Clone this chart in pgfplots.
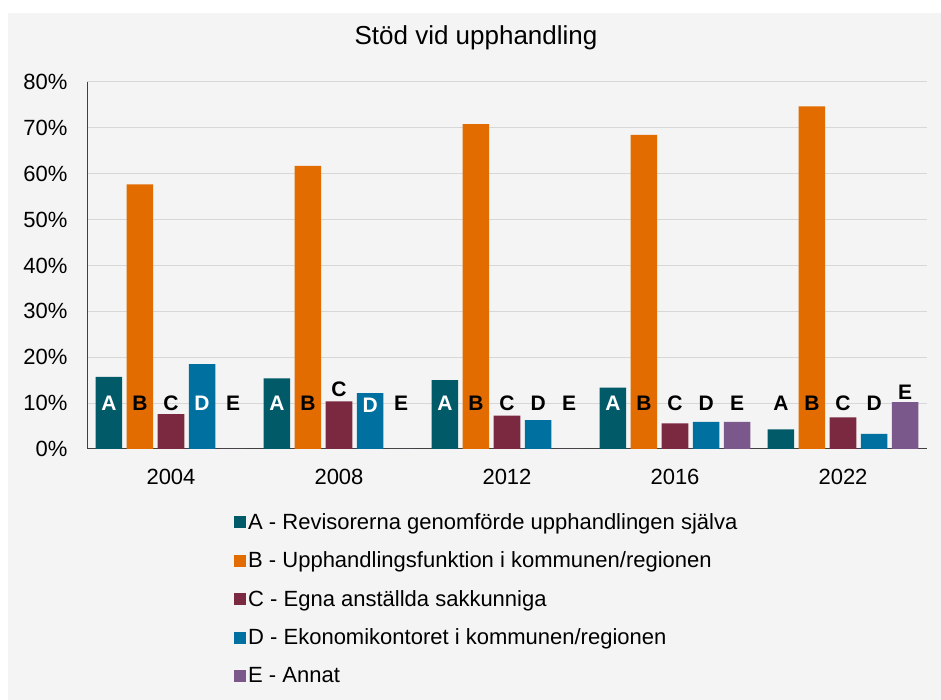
\documentclass[border=0pt]{standalone}
\usepackage{fontspec}
\setmainfont{Liberation Sans}
\usepackage{pgfplots}
\usepackage{pgfplotstable}
\pgfplotsset{compat=1.18}

\definecolor{cA}{RGB}{1,90,104}
\definecolor{cB}{RGB}{227,108,0}
\definecolor{cC}{RGB}{123,41,65}
\definecolor{cD}{RGB}{0,112,160}
\definecolor{cE}{RGB}{123,88,140}
\definecolor{bg}{RGB}{244,244,244}
\definecolor{gridc}{RGB}{215,215,215}

\pgfplotstableread{
x A B C D E
0 15.7 57.7 7.6 18.5 0
1 15.4 61.7 10.4 12.2 0
2 15.0 70.8 7.3 6.3 0
3 13.4 68.5 5.6 5.9 5.9
4 4.3 74.7 6.9 3.3 10.2
}\datatable

\begin{document}
\begin{tikzpicture}[x=1pt,y=1pt,
  lab/.style={font=\bfseries\fontsize{21}{25}\selectfont, inner sep=0pt}]
\fill[white] (0,0) rectangle (941,700);
\fill[bg] (8,0) rectangle (941,687);
\node[font=\fontsize{26}{31}\selectfont] at (476,662) {Stöd vid upphandling};
\begin{axis}[
  at={(87pt,251pt)}, anchor=south west,
  width=840pt, height=367pt, scale only axis,
  ybar, bar width=0.158,
  xmin=-0.5, xmax=4.5, ymin=0, ymax=80,
  xtick={0,...,4}, xticklabels={2004,2008,2012,2016,2022},
  ytick={0,10,...,80},
  yticklabel={\pgfmathprintnumber{\tick}\%},
  /pgf/number format/assume math mode=true,
  tick label style={font=\fontsize{22}{26}\selectfont},
  xticklabel style={yshift=-17pt},
  yticklabel style={xshift=-16pt},
  major tick length=0pt,
  axis x line*=bottom, axis y line*=left,
  axis line style={-, draw=black!75, line width=1pt},
  ymajorgrids, grid style={gridc, line width=1pt},
  legend style={at={(0.175,-0.17)}, anchor=north west, draw=none, fill=none,
    font=\fontsize{22}{26}\selectfont, row sep=17pt, inner sep=0pt},
  legend cell align=left,
  legend image code/.code={\fill[#1] (0pt,-6pt) rectangle (12pt,6pt);},
]
\addplot[fill=cA, draw=none, bar shift=-0.37] table[x=x,y=A]{\datatable};
\addlegendentry{A - Revisorerna genomförde upphandlingen själva}
\addplot[fill=cB, draw=none, bar shift=-0.185] table[x=x,y=B]{\datatable};
\addlegendentry{B - Upphandlingsfunktion i kommunen/regionen}
\addplot[fill=cC, draw=none, bar shift=0] table[x=x,y=C]{\datatable};
\addlegendentry{C - Egna anställda sakkunniga}
\addplot[fill=cD, draw=none, bar shift=0.185] table[x=x,y=D]{\datatable};
\addlegendentry{D - Ekonomikontoret i kommunen/regionen}
\addplot[fill=cE, draw=none, bar shift=0.37] table[x=x,y=E]{\datatable};
\addlegendentry{E - Annat}

% 2004
\node[lab, white] at (axis cs:-0.37,10) {A};
\node[lab] at (axis cs:-0.185,10) {B};
\node[lab] at (axis cs:0,10) {C};
\node[lab, white] at (axis cs:0.185,10) {D};
\node[lab] at (axis cs:0.37,10) {E};
% 2008
\node[lab, white] at (axis cs:0.63,10) {A};
\node[lab] at (axis cs:0.815,10) {B};
\node[lab] at (axis cs:1,13.1) {C};
\node[lab, white] at (axis cs:1.185,9.6) {D};
\node[lab] at (axis cs:1.37,10) {E};
% 2012
\node[lab, white] at (axis cs:1.63,10) {A};
\node[lab] at (axis cs:1.815,10) {B};
\node[lab] at (axis cs:2,10) {C};
\node[lab] at (axis cs:2.185,10) {D};
\node[lab] at (axis cs:2.37,10) {E};
% 2016
\node[lab, white] at (axis cs:2.63,10) {A};
\node[lab] at (axis cs:2.815,10) {B};
\node[lab] at (axis cs:3,10) {C};
\node[lab] at (axis cs:3.185,10) {D};
\node[lab] at (axis cs:3.37,10) {E};
% 2022
\node[lab] at (axis cs:3.63,10) {A};
\node[lab] at (axis cs:3.815,10) {B};
\node[lab] at (axis cs:4,10) {C};
\node[lab] at (axis cs:4.185,10) {D};
\node[lab] at (axis cs:4.37,12.4) {E};
\end{axis}
\end{tikzpicture}
\end{document}
